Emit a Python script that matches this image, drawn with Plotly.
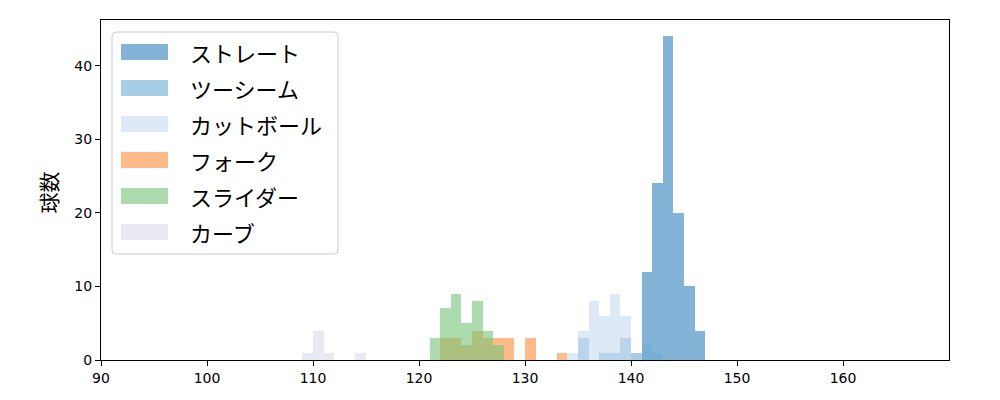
import plotly.graph_objects as go

# pitch speed histograms (km/h bins, left edges) and counts
pitch_names = ['ストレート', 'ツーシーム', 'カットボール', 'フォーク', 'スライダー', 'カーブ']

straight_bins = [140, 141, 142, 143, 144, 145, 146]
straight_counts = [1, 12, 24, 44, 20, 10, 4]

twoseam_bins = [135, 137, 138, 139, 141, 142]
twoseam_counts = [3, 1, 1, 3, 2, 1]

cutter_bins = [134, 135, 136, 137, 138, 139, 140]
cutter_counts = [1, 4, 8, 6, 9, 6, 1]

fork_bins = [122, 123, 124, 125, 126, 127, 128, 130, 133]
fork_counts = [3, 3, 2, 4, 3, 3, 3, 3, 1]

slider_bins = [121, 122, 123, 124, 125, 126, 127]
slider_counts = [3, 7, 9, 5, 8, 4, 2]

curve_bins = [109, 110, 111, 114]
curve_counts = [1, 4, 1, 1]

colors = ['rgba(49,130,189,0.6)', 'rgba(107,174,214,0.6)', 'rgba(198,219,239,0.6)',
          'rgba(253,141,60,0.6)', 'rgba(116,196,118,0.6)', 'rgba(218,218,235,0.6)']

series = [(straight_bins, straight_counts), (twoseam_bins, twoseam_counts),
          (cutter_bins, cutter_counts), (fork_bins, fork_counts),
          (slider_bins, slider_counts), (curve_bins, curve_counts)]

fig = go.Figure()
for name, (bins, counts), col in zip(pitch_names, series, colors):
    fig.add_trace(go.Bar(x=[b + 0.5 for b in bins], y=counts, width=1, name=name,
                         marker=dict(color=col, line=dict(width=0)), showlegend=False))

# page body has an 8px margin, so the figure is drawn 8px smaller and shifted
OFF = 8
W, H = 1000 - OFF, 400 - OFF
# plot area in screen pixels
L, R, T, B = 101, 949, 20, 360
def px_x(p):
    return (p - L) / (R - L)
def px_y(p):
    return (B - p) / (B - T)

# hand-made legend to get matplotlib-like wide swatches
shapes = []
annotations = []
bx0, bx1, by0, by1, rad = 112, 338, 32, 254, 4
path = (f"M{px_x(bx0+rad)},{px_y(by0)} L{px_x(bx1-rad)},{px_y(by0)} "
        f"Q{px_x(bx1)},{px_y(by0)} {px_x(bx1)},{px_y(by0+rad)} "
        f"L{px_x(bx1)},{px_y(by1-rad)} Q{px_x(bx1)},{px_y(by1)} {px_x(bx1-rad)},{px_y(by1)} "
        f"L{px_x(bx0+rad)},{px_y(by1)} Q{px_x(bx0)},{px_y(by1)} {px_x(bx0)},{px_y(by1-rad)} "
        f"L{px_x(bx0)},{px_y(by0+rad)} Q{px_x(bx0)},{px_y(by0)} {px_x(bx0+rad)},{px_y(by0)} Z")
shapes.append(dict(type='path', xref='paper', yref='paper', path=path,
                   fillcolor='rgba(255,255,255,0.8)', line=dict(color='#cccccc', width=1)))
for i, (name, col) in enumerate(zip(pitch_names, colors)):
    cy = 52 + 36 * i
    shapes.append(dict(type='rect', xref='paper', yref='paper',
                       x0=px_x(121), x1=px_x(168), y0=px_y(cy - 8), y1=px_y(cy + 8),
                       fillcolor=col, line=dict(width=0)))
    annotations.append(dict(xref='paper', yref='paper', x=px_x(188), y=px_y(cy),
                            text=name, showarrow=False, xanchor='left', yanchor='middle',
                            font=dict(size=22, color='black', family='Noto Sans CJK JP')))

# y axis title placed like matplotlib's
annotations.append(dict(xref='paper', yref='paper', x=px_x(47.5), y=px_y(192),
                        text='球数', textangle=-90, showarrow=False,
                        xanchor='center', yanchor='middle',
                        font=dict(size=21, color='black', family='Noto Sans CJK JP')))

fig.update_layout(
    width=W, height=H,
    margin=dict(l=L - OFF, r=1000 - R, t=T - OFF, b=400 - B),
    barmode='overlay', bargap=0,
    plot_bgcolor='white', paper_bgcolor='white',
    font=dict(family='DejaVu Sans', size=14, color='black'),
    shapes=shapes, annotations=annotations,
    showlegend=False,
)
fig.update_xaxes(range=[90, 170], tickvals=[90, 100, 110, 120, 130, 140, 150, 160],
                 showgrid=False, zeroline=False, showline=True, linecolor='black',
                 linewidth=1.2, mirror=True, ticks='outside', ticklen=5, tickcolor='black')
fig.update_yaxes(range=[0, 46.2], tickvals=[0, 10, 20, 30, 40],
                 showgrid=False, zeroline=False, showline=True, linecolor='black',
                 linewidth=1.2, mirror=True, ticks='outside', ticklen=5, tickcolor='black')

fig.write_html("out.html")
